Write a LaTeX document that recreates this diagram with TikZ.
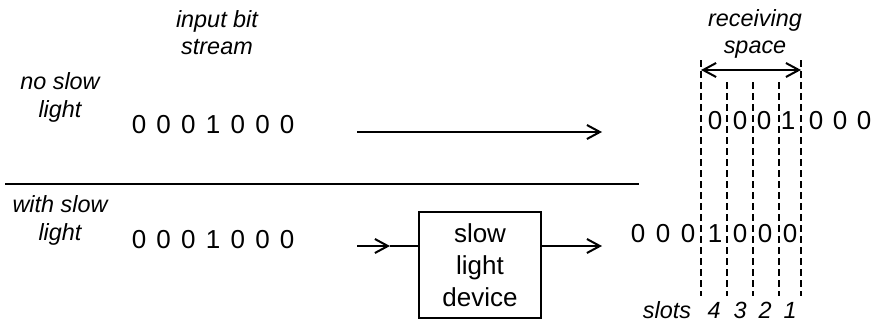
\documentclass[tikz,border=0pt]{standalone}
\usepackage{fontspec}
\setmainfont{Liberation Sans}
\usetikzlibrary{arrows.meta, positioning}

\begin{document}
\begin{tikzpicture}[x=0.5pt, y=-0.5pt,
  bit/.style={font=\fontsize{13}{15}\selectfont, inner sep=0pt, anchor=base},
  lbl/.style={font=\fontsize{11.7}{13.75}\selectfont\itshape, align=center,
              inner sep=0pt},
  dev/.style={draw, line width=1pt, minimum width=61pt, minimum height=53pt,
              inner sep=0pt, font=\fontsize{13}{16}\selectfont, align=center},
  arr/.style={-{Straight Barb[length=6.5pt, width=7pt]}, line width=1pt},
  darr/.style={{Straight Barb[length=6.5pt, width=7pt]}-{Straight Barb[length=6.5pt, width=7pt]},
               line width=1pt},
  slotline/.style={dash pattern=on 3.5pt off 2pt, line width=1pt},
]
\useasboundingbox (0,0) rectangle (876,327);

% row labels
\node[lbl] (input) at (217,32.5) {input bit\\stream};
\node[lbl] (noslow) at (60,97.5) {no slow\\light};
\node[lbl] (withslow) at (60,220.5) {with slow\\light};
\node[lbl] (recv) at (755,34) {receiving\\space};

% input bit streams
\foreach \d [count=\i from 0] in {0,0,0,1,0,0,0} {
  \node[bit] (top\i) at (139+24.7*\i,133) {\d};
  \node[bit] (bot\i) at (139+24.7*\i,248) {\d};
}

\node[dev] (device) at (480,265) {slow\\light\\device};

\coordinate (topin) at (357,132);
\coordinate (topout) at (602,132);
\coordinate (botin) at (357,246);
\coordinate (botmid) at (390,246);
\coordinate (botout) at (602,246);
\coordinate (sepL) at (5,184);
\coordinate (sepR) at (639,184);

\draw[arr] (topin) -- (topout);
\draw[arr] (botin) -- (botmid);
\draw[line width=1pt] (botmid) -- (botin -| device.west);
\draw[arr] (botin -| device.east) -- (botout);
\draw[line width=0.85pt] (sepL) -- (sepR);

% receiving space and slots
\foreach \x/\y [count=\i] in {701/60,726.5/82,753/82,779/82,801/60} {
  \coordinate (sa\i) at (\x,\y);
  \coordinate (sb\i) at (\x,296);
  \draw[slotline] (sa\i) -- (sb\i);
}
\coordinate (rsL) at (701,70);
\coordinate (rsR) at (801,70);
\draw[darr] (rsL) -- (rsR);

% received bits
\foreach \d/\x [count=\i] in {0/715,0/740,0/764,1/788,0/816,0/840,0/864}
  \node[bit] (out\i) at (\x,129) {\d};
\foreach \d/\x [count=\i] in {0/638,0/663,0/688,1/715,0/740,0/765,0/790}
  \node[bit] (del\i) at (\x,242) {\d};

\node[lbl, anchor=base] (slots) at (667,318) {slots};
\foreach \n/\x [count=\i] in {4/714,3/740,2/765,1/790}
  \node[lbl, anchor=base] (slot\i) at (\x,318) {\n};
\end{tikzpicture}
\end{document}
